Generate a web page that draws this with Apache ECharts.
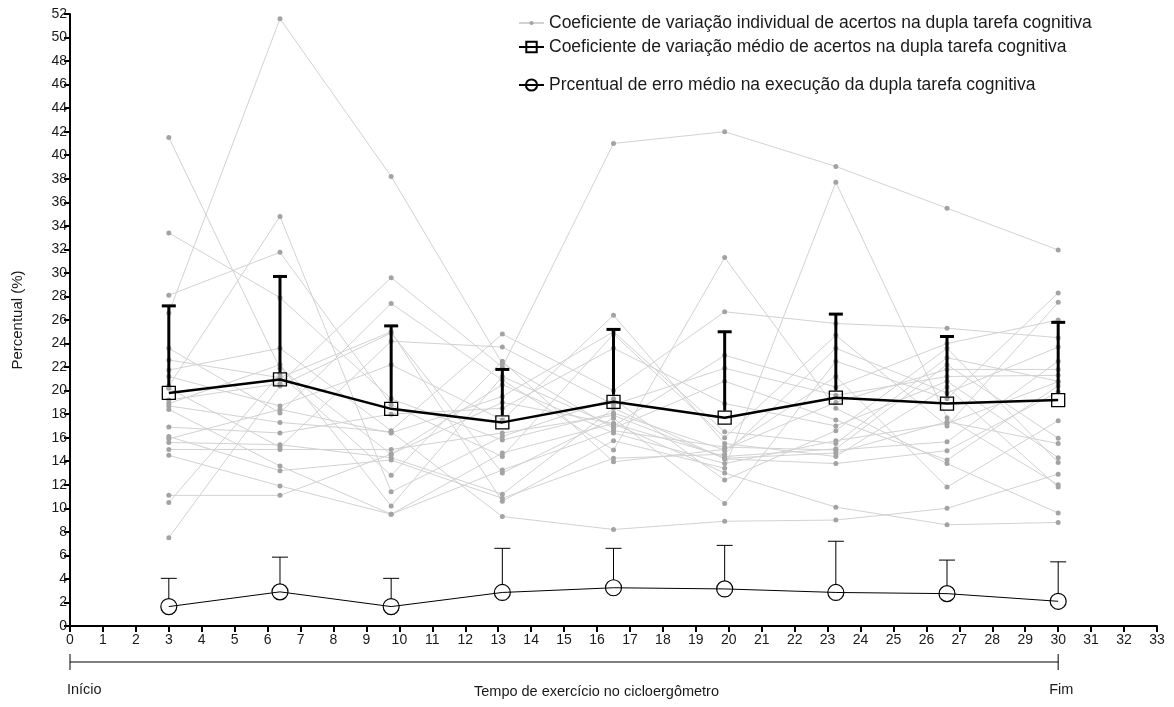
<!DOCTYPE html>
<html>
<head>
<meta charset="utf-8">
<script src="https://cdn.jsdelivr.net/npm/echarts@6/dist/echarts.min.js"></script>
<style>
html,body{margin:0;padding:0;background:#fff;}
#chart{width:1174px;height:707px;}
</style>
</head>
<body>
<div id="chart"></div>
<script>
// ---- data ----
const times = [3, 6.375, 9.75, 13.125, 16.5, 19.875, 23.25, 26.625, 30];
const xTicks = [0,1,2,3,4,5,6,7,8,9,10,11,12,13,14,15,16,17,18,19,20,21,22,23,24,25,26,27,28,29,30,31,32,33];
const yTicks = [0,2,4,6,8,10,12,14,16,18,20,22,24,26,28,30,32,34,36,38,40,42,44,46,48,50,52];

// individual coefficient of variation (one array per subject)
const subj01 = [41.5, 21.9, 14.6, 19.0, 17.2, 14.4, 15.05, 22.2, 15.95];
const subj02 = [26.6, 51.6, 38.2, 22.3, 16.8, 20.8, 17.5, 14.1, 20.4];
const subj03 = [33.4, 27.9, 19.3, 15.8, 18.1, 14.95, 21.2, 11.8, 17.45];
const subj04 = [28.1, 31.75, 18.8, 14.4, 24.8, 16.0, 24.7, 17.0, 27.5];
const subj05 = [20.4, 34.8, 11.4, 16.1, 19.3, 12.4, 16.6, 23.6, 13.9];
const subj06 = [7.5, 20.4, 24.9, 13.0, 17.65, 10.4, 22.5, 19.3, 28.3];
const subj07 = [19.2, 20.6, 29.6, 22.0, 41.0, 42.0, 39.05, 35.5, 31.95];
const subj08 = [23.6, 18.1, 27.4, 20.9, 14.95, 31.3, 18.5, 13.8, 9.6];
const subj09 = [22.6, 21.1, 25.0, 10.6, 15.75, 13.4, 37.7, 17.7, 12.0];
const subj10 = [21.75, 23.6, 16.6, 24.8, 20.0, 26.7, 25.7, 25.3, 24.5];
const subj11 = [21.2, 18.7, 22.2, 17.5, 26.4, 15.5, 14.4, 20.3, 11.8];
const subj12 = [20.2, 15.2, 24.2, 23.7, 18.8, 21.9, 19.6, 21.2, 21.3];
const subj13 = [18.9, 22.2, 10.2, 21.2, 17.0, 23.0, 20.3, 24.0, 26.0];
const subj14 = [18.7, 17.3, 16.5, 9.3, 8.2, 8.9, 9.0, 10.0, 12.9];
const subj15 = [18.4, 13.6, 9.5, 13.25, 16.6, 15.2, 14.95, 15.65, 22.5];
const subj16 = [16.9, 16.4, 18.0, 18.5, 23.6, 18.9, 17.0, 20.8, 14.3];
const subj17 = [16.1, 13.2, 14.1, 10.85, 14.25, 14.6, 23.6, 19.8, 23.7];
const subj18 = [15.9, 18.4, 16.4, 19.5, 25.0, 16.5, 15.5, 22.8, 20.8];
const subj19 = [15.6, 15.4, 14.3, 11.2, 18.5, 14.2, 13.8, 14.9, 19.9];
const subj20 = [15.0, 15.0, 15.0, 16.4, 17.9, 14.25, 14.7, 17.35, 15.5];
const subj21 = [14.5, 11.9, 9.5, 14.7, 17.2, 13.0, 10.1, 8.6, 8.8];
const subj22 = [11.1, 11.1, 14.6, 20.5, 16.4, 13.8, 15.75, 17.2, 20.75];
const subj23 = [10.5, 21.4, 12.8, 22.5, 13.95, 15.0, 19.0, 21.8, 21.8];

// mean coefficient of variation and upper end of its error bar
const cvMean  = [19.8, 20.95, 18.45, 17.3, 19.05, 17.7, 19.4, 18.9, 19.2];
const cvUpper = [27.2, 29.7, 25.5, 21.8, 25.2, 25.0, 26.5, 24.6, 25.8];

// mean error percentage and upper end of its error bar
const errMean  = [1.65, 2.9, 1.65, 2.85, 3.25, 3.15, 2.85, 2.75, 2.1];
const errUpper = [4.05, 5.85, 4.05, 6.6, 6.6, 6.85, 7.2, 5.6, 5.45];

const labelIndiv = 'Coeficiente de variação individual de acertos na dupla tarefa cognitiva';
const labelMean  = 'Coeficiente de variação médio de acertos na dupla tarefa cognitiva';
const labelErr   = 'Prcentual de erro médio na execução da dupla tarefa cognitiva';
const xTitle = 'Tempo de exercício no cicloergômetro';
const yTitle = 'Percentual (%)';
const startLabel = 'Início';
const endLabel = 'Fim';

const subjects = [subj01,subj02,subj03,subj04,subj05,subj06,subj07,subj08,subj09,subj10,subj11,subj12,
  subj13,subj14,subj15,subj16,subj17,subj18,subj19,subj20,subj21,subj22,subj23];

// ---- chart ----
const FONT = "'Liberation Sans',Arial,Helvetica,sans-serif";
const chart = echarts.init(document.getElementById('chart'), null, {renderer:'canvas'});

const pair = arr => times.map((t,i)=>[t, arr[i]]);

const series = [];
subjects.forEach(s => {
  series.push({
    name: labelIndiv, type:'line', data: pair(s), z: 1,
    symbol:'circle', symbolSize:5, showSymbol:true,
    lineStyle:{color:'#d2d2d2', width:1},
    itemStyle:{color:'#a3a3a6'},
    emphasis:{disabled:true}, animation:false
  });
});

function errRender(width, capHalf, offset){
  return function(params, api){
    const x = api.value(0), m = api.value(1), u = api.value(2);
    const p = api.coord([x, m]);
    const q = api.coord([x, u]);
    return {type:'group', children:[
      {type:'line', shape:{x1:p[0], y1:p[1]-offset, x2:q[0], y2:q[1]}, style:{stroke:'#000', lineWidth:width}},
      {type:'line', shape:{x1:q[0]-capHalf, y1:q[1], x2:q[0]+capHalf, y2:q[1]}, style:{stroke:'#000', lineWidth:width}}
    ]};
  };
}

series.push({
  type:'custom', name:'cvErr', z: 5, animation:false,
  renderItem: errRender(3, 7, 7),
  encode:{x:0, y:[1,2]},
  data: times.map((t,i)=>[t, cvMean[i], cvUpper[i]])
});
series.push({
  name: labelMean, type:'line', data: pair(cvMean), z: 6,
  symbol:'rect', symbolSize:13,
  lineStyle:{color:'#000', width:2.5},
  itemStyle:{color:'rgba(255,255,255,0)', borderColor:'#000', borderWidth:1.3},
  emphasis:{disabled:true}, animation:false
});
series.push({
  type:'custom', name:'errErr', z: 5, animation:false,
  renderItem: errRender(1, 8, 8),
  encode:{x:0, y:[1,2]},
  data: times.map((t,i)=>[t, errMean[i], errUpper[i]])
});
series.push({
  name: labelErr, type:'line', data: pair(errMean), z: 6,
  symbol:'circle', symbolSize:16,
  lineStyle:{color:'#000', width:1},
  itemStyle:{color:'rgba(255,255,255,0)', borderColor:'#000', borderWidth:1.2},
  emphasis:{disabled:true}, animation:false
});

const legText = {fontFamily:FONT, fontSize:17.5, color:'#1a1a1a', lineHeight:20};
const option = {
  backgroundColor:'#fff',
  animation:false,
  grid:{left:70, right:17, top:14, bottom:81, containLabel:false},
  legend:[
    {data:[labelIndiv], orient:'vertical', left:513, top:8, itemWidth:25, itemHeight:5,
     textStyle:legText, selectedMode:false},
    {data:[labelMean], orient:'vertical', left:513, top:32, itemWidth:25, itemHeight:13,
     textStyle:legText, selectedMode:false},
    {data:[labelErr], orient:'vertical', left:513, top:70, itemWidth:25, itemHeight:14,
     textStyle:legText, selectedMode:false}
  ],
  xAxis:{
    type:'value', min:xTicks[0], max:xTicks[xTicks.length-1], interval:1,
    axisLine:{show:true, onZero:false, lineStyle:{color:'#000', width:2}},
    axisTick:{show:true, length:6, lineStyle:{color:'#000', width:2}},
    axisLabel:{fontFamily:FONT, fontSize:14, color:'#1a1a1a', margin:7},
    splitLine:{show:false}
  },
  yAxis:{
    type:'value', min:yTicks[0], max:yTicks[yTicks.length-1], interval:2,
    name:yTitle, nameLocation:'middle', nameGap:45, nameRotate:90,
    nameTextStyle:{fontFamily:FONT, fontSize:15, color:'#1a1a1a'},
    axisLine:{show:true, lineStyle:{color:'#000', width:2}},
    axisTick:{show:true, length:6, lineStyle:{color:'#000', width:2}},
    axisLabel:{fontFamily:FONT, fontSize:14, color:'#1a1a1a', margin:3},
    splitLine:{show:false}
  },
  series: series
};
chart.setOption(option);

// annotation bracket under the x axis, positioned from the axis scale
const pStart = chart.convertToPixel({gridIndex:0}, [0, 0]);
const pEnd = chart.convertToPixel({gridIndex:0}, [times[times.length-1], 0]);
const by = 662;
chart.setOption({
  graphic:[
    {type:'line', shape:{x1:pStart[0], y1:by, x2:pEnd[0], y2:by}, style:{stroke:'#000', lineWidth:1}},
    {type:'line', shape:{x1:pStart[0], y1:by-8, x2:pStart[0], y2:by+8}, style:{stroke:'#000', lineWidth:1}},
    {type:'line', shape:{x1:pEnd[0], y1:by-8, x2:pEnd[0], y2:by+8}, style:{stroke:'#000', lineWidth:1}},
    {type:'text', left: pStart[0]-3, top:682, style:{text:startLabel, font:"14.5px "+FONT, fill:'#1a1a1a'}},
    {type:'text', left: pEnd[0]-9, top:682, style:{text:endLabel, font:"14.5px "+FONT, fill:'#1a1a1a'}},
    {type:'text', left: 474, top:684, style:{text:xTitle, font:"14.5px "+FONT, fill:'#1a1a1a'}}
  ]
});
</script>
</body>
</html>
